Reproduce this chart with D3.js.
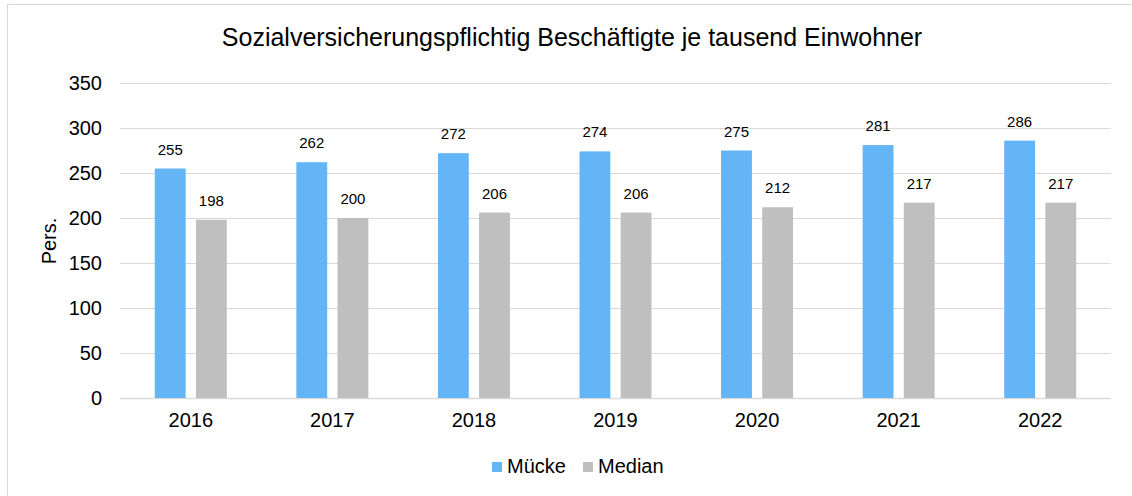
<!DOCTYPE html>
<html>
<head>
<meta charset="utf-8">
<script src="https://cdn.jsdelivr.net/npm/d3@7/dist/d3.min.js"></script>
<style>
  html, body { margin: 0; padding: 0; background: #fff; }
  svg { display: block; font-family: Arial, "Liberation Sans", sans-serif; }
</style>
</head>
<body>
<svg id="chart" width="1132" height="496"></svg>
<script>
const years = ["2016", "2017", "2018", "2019", "2020", "2021", "2022"];
const muecke = [255, 262, 272, 274, 275, 281, 286];
const median = [198, 200, 206, 206, 212, 217, 217];
const seriesNames = ["Mücke", "Median"];
const seriesColors = ["#63b5f6", "#bfbfbf"];
const yTicks = [0, 50, 100, 150, 200, 250, 300, 350];

const svg = d3.select("#chart");
const W = 1132, H = 496;
const plot = { left: 120, right: 1111, top: 83, bottom: 398 };
const FONT = "Arial, 'Liberation Sans', sans-serif";

// chart frame
svg.append("rect")
  .attr("x", 7.5).attr("y", 4.5)
  .attr("width", W + 20).attr("height", H + 20)
  .attr("fill", "#fff").attr("stroke", "#d9d9d9").attr("stroke-width", 1.2);

const x = d3.scaleBand().domain(years).range([plot.left, plot.right]);
const y = d3.scaleLinear().domain([0, 350]).range([plot.bottom, plot.top]);
const inner = d3.scaleBand().domain(seriesNames).range([0, 72]).paddingInner(0.25);
const groupOffset = (x.bandwidth() - 72) / 2;

// gridlines
svg.append("g").selectAll("line").data(yTicks).join("line")
  .attr("x1", plot.left).attr("x2", plot.right)
  .attr("y1", d => Math.round(y(d)) + 0.5).attr("y2", d => Math.round(y(d)) + 0.5)
  .attr("stroke", "#d9d9d9").attr("stroke-width", d => d === 0 ? 1.5 : 1.2);

// y axis labels
const yAxis = svg.append("g").attr("transform", `translate(${plot.left - 18},0)`)
  .call(d3.axisLeft(y).tickValues(yTicks).tickSize(0).tickPadding(0));
yAxis.select(".domain").remove();
yAxis.selectAll("text").attr("font-size", 20).attr("fill", "#000").attr("font-family", FONT);

// x axis labels
const xAxis = svg.append("g").attr("transform", `translate(0,${plot.bottom + 15})`)
  .call(d3.axisBottom(x).tickSize(0).tickPadding(0));
xAxis.select(".domain").remove();
xAxis.selectAll("text").attr("font-size", 20).attr("fill", "#000").attr("font-family", FONT);

// bars and value labels
const rows = years.map((yr, i) => ({ year: yr, values: [muecke[i], median[i]] }));
const groups = svg.append("g").selectAll("g").data(rows).join("g")
  .attr("transform", d => `translate(${x(d.year) + groupOffset},0)`);

groups.selectAll("rect")
  .data(d => d.values.map((v, k) => ({ name: seriesNames[k], value: v, k })))
  .join("rect")
  .attr("x", d => inner(d.name))
  .attr("width", inner.bandwidth())
  .attr("y", d => y(d.value))
  .attr("height", d => y(0) - y(d.value))
  .attr("fill", d => seriesColors[d.k]);

groups.selectAll("text")
  .data(d => d.values.map((v, k) => ({ name: seriesNames[k], value: v })))
  .join("text")
  .attr("x", d => inner(d.name) + inner.bandwidth() / 2)
  .attr("y", d => y(d.value) - 14)
  .attr("text-anchor", "middle")
  .attr("font-size", 15)
  .attr("fill", "#000")
  .text(d => d.value);

// title
svg.append("text")
  .attr("x", 572).attr("y", 46)
  .attr("text-anchor", "middle")
  .attr("font-size", 25)
  .attr("fill", "#000")
  .text("Sozialversicherungspflichtig Beschäftigte je tausend Einwohner");

// y axis title
svg.append("text")
  .attr("transform", "translate(56,241) rotate(-90)")
  .attr("text-anchor", "middle")
  .attr("font-size", 20)
  .attr("fill", "#000")
  .text("Pers.");

// legend
const legend = svg.append("g").attr("transform", "translate(492,462)");
const legendX = [0, 91];
seriesNames.forEach((name, k) => {
  const g = legend.append("g").attr("transform", `translate(${legendX[k]},0)`);
  g.append("rect").attr("width", 10).attr("height", 10).attr("fill", seriesColors[k]);
  g.append("text").attr("x", 15).attr("y", 11).attr("font-size", 20).attr("fill", "#000").text(name);
});
</script>
</body>
</html>
